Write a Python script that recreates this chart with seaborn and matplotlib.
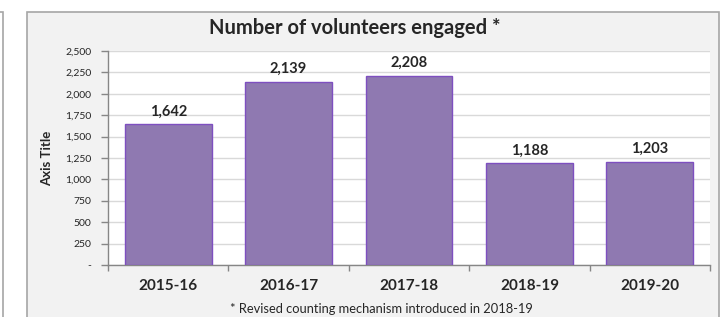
import matplotlib
matplotlib.use("Agg")
import matplotlib.pyplot as plt
import matplotlib.patches as mpatches
import matplotlib.ticker as mticker
import numpy as np
import pandas as pd
import seaborn as sns

years = ["2015-16", "2016-17", "2017-18", "2018-19", "2019-20"]
volunteers = [1642, 2139, 2208, 1188, 1203]
yticks = [0, 250, 500, 750, 1000, 1250, 1500, 1750, 2000, 2250, 2500]

df = pd.DataFrame({"year": years, "volunteers": volunteers})

sns.set_style("white")
plt.rcParams["font.family"] = ["Lato", "DejaVu Sans"]

fig = plt.figure(figsize=(7.28, 3.17), dpi=100)
fig.patch.set_facecolor("white")

# chart frame (Excel style)
fig.patches.append(mpatches.Rectangle((27 / 728, -0.05), (719 - 27) / 728, 1 - 12 / 317 + 0.05,
                                      transform=fig.transFigure, facecolor="#F2F2F2",
                                      edgecolor="#A6A6A6", linewidth=1.2, zorder=-2))
# edge of neighbouring chart on the left
fig.patches.append(mpatches.Rectangle((-0.05, -0.05), 0.05 + 3 / 728, 1 - 12 / 317 + 0.05,
                                      transform=fig.transFigure, facecolor="white",
                                      edgecolor="#A6A6A6", linewidth=1.2, zorder=-2))

ax = fig.add_axes([108 / 728, 1 - 265 / 317, (710 - 108) / 728, (265 - 51) / 317])
ax.set_zorder(1)
ax.set_facecolor("white")

sns.barplot(data=df, x="year", y="volunteers", ax=ax, color="#8F79B1",
            edgecolor="#7E4FC0", linewidth=1.0, width=0.72, saturation=1, zorder=3)

ax.set_ylim(0, 2500)
ax.set_xlim(-0.5, len(years) - 0.5)
ax.set_yticks(yticks)
ax.yaxis.set_major_formatter(mticker.FuncFormatter(lambda v, p: "-" if v == 0 else f"{int(v):,}"))
ax.yaxis.grid(True, color="#D9D9D9", linewidth=1.0, zorder=0)
ax.set_axisbelow(True)

for s in ["top", "right"]:
    ax.spines[s].set_visible(False)
for s in ["left", "bottom"]:
    ax.spines[s].set_color("#868686")
    ax.spines[s].set_linewidth(1.0)

ax.tick_params(axis="y", which="major", direction="out", length=5, width=1,
               color="#868686", labelsize=7.5, pad=7, left=True)
ax.tick_params(axis="x", which="major", length=0, labelsize=11, pad=10)
ax.set_xticks(np.arange(-0.5, len(years), 1), minor=True)
ax.tick_params(axis="x", which="minor", direction="out", length=4, width=1,
               color="#868686", bottom=True)
for lbl in ax.get_xticklabels():
    lbl.set_fontweight("bold")

ax.set_xlabel("")
ax.set_ylabel("Axis Title", fontsize=9.5, fontweight="bold", labelpad=9)

for i, v in enumerate(volunteers):
    ax.text(i, v + 70, f"{v:,}", ha="center", va="bottom", fontsize=10.5, fontweight="bold")

fig.text(355 / 728, 1 - 28 / 317, "Number of volunteers engaged *", ha="center", va="center",
         fontsize=14.5, fontweight="bold")
fig.text(381 / 728, 1 - 309 / 317, "* Revised counting mechanism introduced in 2018-19",
         ha="center", va="center", fontsize=9.3)

fig.savefig("out.png", dpi=100)
